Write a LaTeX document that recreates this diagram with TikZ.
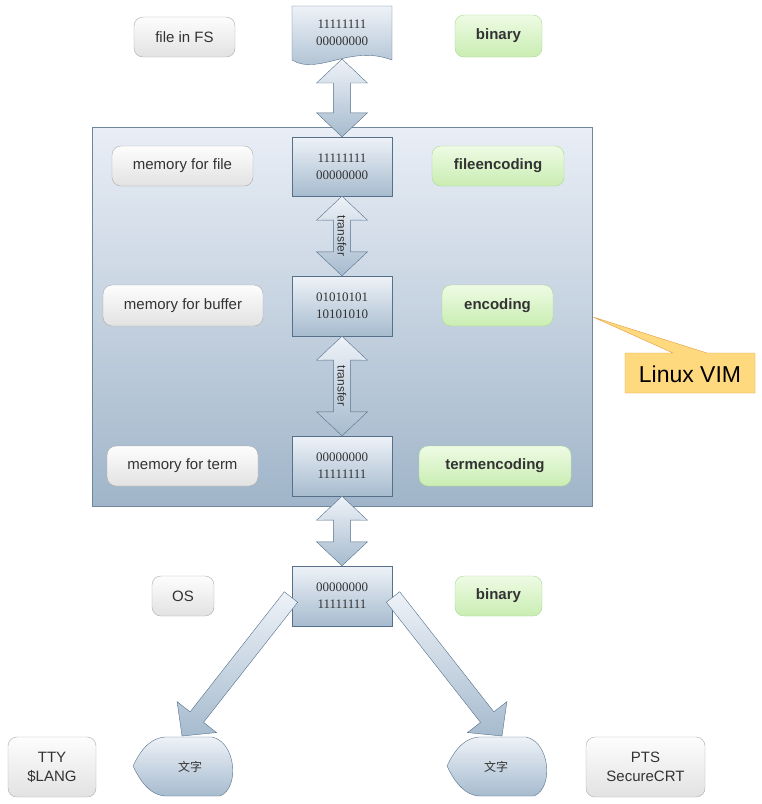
\documentclass[tikz,border=0pt]{standalone}
\usepackage{fontspec}
\setmainfont{Liberation Sans}
\newfontfamily\digitfont{Liberation Serif}
\newfontfamily\cjkfont{Noto Sans CJK SC}
\usetikzlibrary{calc}
\definecolor{boxtop}{HTML}{EEF2F8}
\definecolor{boxbot}{HTML}{A6BBCE}
\definecolor{boxline}{HTML}{56708A}
\definecolor{bigtop}{HTML}{E9EEF6}
\definecolor{bigbot}{HTML}{A0B5C9}
\definecolor{bigline}{HTML}{6F879D}
\definecolor{greytop}{HTML}{FDFDFD}
\definecolor{greybot}{HTML}{E2E2E2}
\definecolor{greyline}{HTML}{ABABAB}
\definecolor{greentop}{HTML}{EEFBE4}
\definecolor{greenbot}{HTML}{C9EDB2}
\definecolor{greenline}{HTML}{A9D994}
\definecolor{calloutfill}{HTML}{FFD97E}
\definecolor{calloutline}{HTML}{E49C42}
\definecolor{txt}{HTML}{333333}
\tikzset{
  digitstyle/.style={font=\digitfont\fontsize{13}{17}\selectfont, text=txt, align=center, inner sep=0pt},
  binbox/.style={digitstyle, draw=boxline, top color=boxtop, bottom color=boxbot, minimum width=100pt},
  greylabel/.style={draw=greyline, top color=greytop, bottom color=greybot, rounded corners=9pt,
    font=\fontsize{15}{19}\selectfont, text=txt, align=center, inner sep=0pt},
  greenlabel/.style={draw=greenline, top color=greentop, bottom color=greenbot, rounded corners=9pt,
    font=\bfseries\fontsize{15}{19}\selectfont, text=txt, align=center, inner sep=0pt},
  fatarrow/.style={draw=boxline, top color=boxtop, bottom color=boxbot},
  dispshape/.style={draw=boxline, top color=boxtop, bottom color=boxbot},
  transferlabel/.style={font=\fontsize{12}{14}\selectfont, text=txt, rotate=-90, inner sep=0pt},
}
\newcommand\dblarr[2]{%
  \path[fatarrow] (#1) -- ($(#1)!35pt!46.7:(#2)$) -- ($(#1)!25.5pt!19.9:(#2)$)
   -- ($(#2)!25.5pt!-19.9:(#1)$) -- ($(#2)!35pt!-46.7:(#1)$) -- (#2)
   -- ($(#2)!35pt!46.7:(#1)$) -- ($(#2)!25.5pt!19.9:(#1)$)
   -- ($(#1)!25.5pt!-19.9:(#2)$) -- ($(#1)!35pt!-46.7:(#2)$) -- cycle;}
\newcommand\sglarr[2]{%
  \path[fatarrow] ($(#1)!8.5pt!90:(#2)$) -- ($(#2)!25.5pt!-19.5:(#1)$) -- ($(#2)!34.7pt!-46.2:(#1)$)
   -- (#2) -- ($(#2)!34.7pt!46.2:(#1)$) -- ($(#2)!25.5pt!19.5:(#1)$) -- ($(#1)!8.5pt!-90:(#2)$) -- cycle;}
\begin{document}
\begin{tikzpicture}[x=1pt,y=-1pt]
\useasboundingbox (0,0) rectangle (762,804);
% big VIM frame
\path[draw=bigline, top color=bigtop, bottom color=bigbot] (92,127) rectangle (592,506);
% callout
\path[draw=calloutline, fill=calloutfill] (625,353) -- (673,353) -- (593,317) -- (707,353) -- (755,353)
  -- (755,393) -- (625,393) -- cycle;
\node (vim) at (690,374) {\fontsize{23}{25}\selectfont Linux VIM};
% file in FS document shape
\path[draw=boxline, top color=boxtop, bottom color=boxbot] (292,6) -- (392,6) -- (392,60)
  .. controls (350,44) and (318,76) .. (292,60) -- cycle;
\node[digitstyle] (fs) at (342,33) {11111111\\00000000};
\coordinate (fsb) at (342,59);
% binary boxes
\node[binbox, minimum height=59pt] (b1) at (342,166.5) {11111111\\00000000};
\node[binbox, minimum height=60pt] (b2) at (342,306) {01010101\\10101010};
\node[binbox, minimum height=60pt] (b3) at (342,466) {00000000\\11111111};
\node[binbox, minimum height=60pt] (b4) at (342,596) {00000000\\11111111};
% grey labels
\node[greylabel, minimum width=101pt, minimum height=40pt] (fileinfs) at (184.5,37) {file in FS};
\node[greylabel, minimum width=141pt, minimum height=40pt] (memfile) at (182.5,166) {memory for file};
\node[greylabel, minimum width=160pt, minimum height=41pt] (membuf) at (183,305.5) {memory for buffer};
\node[greylabel, minimum width=151pt, minimum height=40pt] (memterm) at (182.5,466) {memory for term};
\node[greylabel, minimum width=62pt, minimum height=40pt] (os) at (183,596) {OS};
\node[greylabel, minimum width=88pt, minimum height=60pt] (tty) at (52,767) {TTY\\\$LANG};
\node[greylabel, minimum width=119pt, minimum height=60pt] (pts) at (645.5,767) {PTS\\SecureCRT};
% green labels
\node[greenlabel, minimum width=87pt, minimum height=42pt] (bin1) at (498.5,36) {binary};
\node[greenlabel, minimum width=132pt, minimum height=40pt] (fileenc) at (498,166) {fileencoding};
\node[greenlabel, minimum width=111pt, minimum height=41pt] (enc) at (497.5,305.5) {encoding};
\node[greenlabel, minimum width=152pt, minimum height=40pt] (termenc) at (495,466) {termencoding};
\node[greenlabel, minimum width=87pt, minimum height=40pt] (bin2) at (498.5,596) {binary};
% display shapes
\path[dispshape] (133,766) .. controls (142,747) and (152,738) .. (165,737) -- (212,737)
  .. controls (236,742) and (240,788) .. (220,796) -- (165,796)
  .. controls (152,795) and (142,785) .. (133,766) -- cycle;
\node[font=\cjkfont\fontsize{12}{14}\selectfont, text=txt] (t1) at (190,767) {文字};
\path[dispshape] (447,766) .. controls (456,747) and (466,738) .. (479,737) -- (526,737)
  .. controls (550,742) and (554,788) .. (534,796) -- (479,796)
  .. controls (466,795) and (456,785) .. (447,766) -- cycle;
\node[font=\cjkfont\fontsize{12}{14}\selectfont, text=txt] (t2) at (496,767) {文字};
% arrows
\dblarr{fsb}{b1.north}
\dblarr{b1.south}{b2.north}
\dblarr{b2.south}{b3.north}
\dblarr{b3.south}{b4.north}
\node[transferlabel] (tr1) at ($(b1.south)!0.5!(b2.north)$) {transfer};
\node[transferlabel] (tr2) at ($(b2.south)!0.5!(b3.north)$) {transfer};
\coordinate (l0) at (291,597);
\coordinate (l1) at (182,736);
\coordinate (r0) at (393,597);
\coordinate (r1) at (502,736);
\sglarr{l0}{l1}
\sglarr{r0}{r1}
\end{tikzpicture}
\end{document}
